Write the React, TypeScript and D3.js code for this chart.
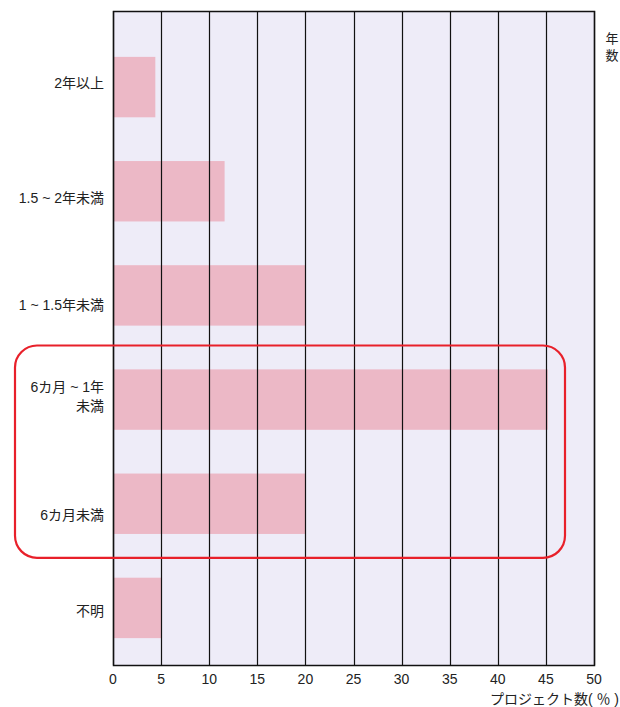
import React from "react";
import * as d3 from "d3";

// Project duration categories (top to bottom) and share of projects (%)
const categories: string[][] = [
  ["2年以上"],
  ["1.5 ~ 2年未満"],
  ["1 ~ 1.5年未満"],
  ["6カ月 ~ 1年", "未満"],
  ["6カ月未満"],
  ["不明"],
];
const values: number[] = [4.4, 11.6, 20, 45.2, 20, 5];
const xTicks: number[] = [0, 5, 10, 15, 20, 25, 30, 35, 40, 45, 50];
const highlighted: number[] = [3, 4];

// Vertical nudge of each category label relative to its bar centre (px)
const labelNudge: number[] = [-4, 7, 10, -3, 11, 3];

const W = 620;
const H = 707;
const FONT = "'Liberation Sans', 'Noto Sans CJK JP', sans-serif";

export default function App() {
  const plotLeft = 113;
  const plotRight = 594;
  const plotTop = 11;
  const plotBottom = 665;

  const x = d3.scaleLinear().domain([0, 50]).range([plotLeft, plotRight]);
  const y = d3
    .scaleBand<number>()
    .domain(d3.range(categories.length))
    .range([35, 660])
    .paddingInner(0.42)
    .paddingOuter(0.21);

  const bw = y.bandwidth();
  const step = y.step();
  const gap = (step - bw) / 2;
  const hiTop = (y(highlighted[0]) as number) - gap - 2;
  const hiBottom = (y(highlighted[highlighted.length - 1]) as number) + bw + gap + 2;

  return (
    <svg
      width={W}
      height={H}
      style={{ position: "absolute", left: 0, top: 0, fontFamily: FONT }}
    >
      <rect
        x={plotLeft}
        y={plotTop}
        width={plotRight - plotLeft}
        height={plotBottom - plotTop}
        fill="#eeecf8"
      />
      {values.map((v, i) => (
        <rect
          key={i}
          x={x(0)}
          y={y(i)}
          width={x(v) - x(0)}
          height={bw}
          fill="#ecb8c6"
        />
      ))}
      {xTicks.map((t) => (
        <line
          key={t}
          x1={Math.round(x(t)) + 0.5}
          x2={Math.round(x(t)) + 0.5}
          y1={plotTop}
          y2={plotBottom}
          stroke="#111"
          strokeWidth={1.2}
        />
      ))}
      <rect
        x={plotLeft + 0.5}
        y={plotTop + 0.5}
        width={plotRight - plotLeft}
        height={plotBottom - plotTop}
        fill="none"
        stroke="#111"
        strokeWidth={1.5}
      />
      {xTicks.map((t) => (
        <text
          key={t}
          x={x(t)}
          y={684}
          fontSize={14}
          textAnchor="middle"
          fill="#222"
        >
          {t}
        </text>
      ))}
      {categories.map((lines, i) => {
        const cy = (y(i) as number) + bw / 2 + labelNudge[i];
        const lh = 19;
        const y0 = cy - ((lines.length - 1) * lh) / 2;
        return (
          <text key={i} x={104} fontSize={14} textAnchor="end" fill="#222">
            {lines.map((ln, j) => (
              <tspan key={j} x={104} y={y0 + j * lh} dy="0.35em">
                {ln}
              </tspan>
            ))}
          </text>
        );
      })}
      <text x={619} y={704} fontSize={14} textAnchor="end" fill="#222">
        プロジェクト数( ％ )
      </text>
      <text fontSize={13} textAnchor="middle" fill="#222">
        <tspan x={612} y={43}>年</tspan>
        <tspan x={612} y={60}>数</tspan>
      </text>
      <rect
        x={15}
        y={hiTop}
        width={565 - 15}
        height={hiBottom - hiTop}
        rx={22}
        ry={22}
        fill="none"
        stroke="#e8202a"
        strokeWidth={2.2}
      />
    </svg>
  );
}
